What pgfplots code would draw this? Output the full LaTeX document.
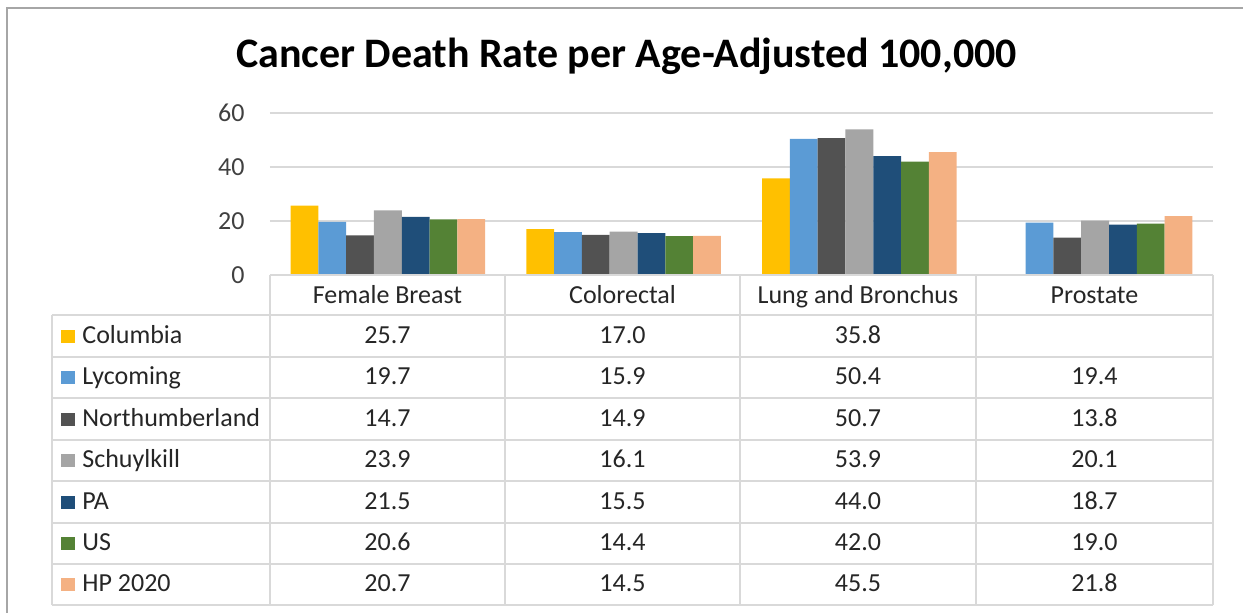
\documentclass[border=0pt]{standalone}
\usepackage{pgfplots}
\pgfplotsset{compat=1.18}
\usepackage{fontspec}
\setmainfont{Carlito}
\definecolor{cCol}{HTML}{FFC000}
\definecolor{cLyc}{HTML}{5B9BD5}
\definecolor{cNor}{HTML}{525252}
\definecolor{cSch}{HTML}{A5A5A5}
\definecolor{cPA}{HTML}{1F4E79}
\definecolor{cUS}{HTML}{548235}
\definecolor{cHP}{HTML}{F4B183}
\definecolor{gridc}{HTML}{D9D9D9}
\definecolor{borderc}{HTML}{A6A6A6}
\begin{document}
\begin{tikzpicture}
\path[use as bounding box] (-135pt,137.5pt) rectangle (486.5pt,-169pt);
\begin{axis}[
  at={(0pt,0pt)}, anchor=south west,
  scale only axis, width=471.5pt, height=81pt,
  xmin=-0.5, xmax=3.5, ymin=0, ymax=60,
  ybar=0pt, bar width=13.9pt,
  xtick=\empty, ytick={0,20,40,60},
  ymajorgrids, grid style={line width=0.75pt, color=gridc},
  axis line style={draw=none},
  major tick length=0pt,
  yticklabel style={font=\fontsize{13}{15}\selectfont, text=black!75, inner sep=0pt, anchor=east, xshift=-12.5pt},
  /pgf/number format/assume math mode=true,
  clip=false,
]
\addplot[fill=cCol, draw=none] coordinates {(0,25.7) (1,17.0) (2,35.8)};
\addplot[fill=cLyc, draw=none] coordinates {(0,19.7) (1,15.9) (2,50.4) (3,19.4)};
\addplot[fill=cNor, draw=none] coordinates {(0,14.7) (1,14.9) (2,50.7) (3,13.8)};
\addplot[fill=cSch, draw=none] coordinates {(0,23.9) (1,16.1) (2,53.9) (3,20.1)};
\addplot[fill=cPA, draw=none] coordinates {(0,21.5) (1,15.5) (2,44.0) (3,18.7)};
\addplot[fill=cUS, draw=none] coordinates {(0,20.6) (1,14.4) (2,42.0) (3,19.0)};
\addplot[fill=cHP, draw=none] coordinates {(0,20.7) (1,14.5) (2,45.5) (3,21.8)};
\end{axis}
\begin{scope}[shift={(-135pt,137.5pt)}, x=0.5pt, y=-0.5pt]
% outer frame
\draw[borderc, line width=1pt] (7,620) -- (7,8.5) -- (1250,8.5);
% title
\node[font=\bfseries\fontsize{21}{24}\selectfont, anchor=base] at (626.5,68) {Cancer Death Rate per Age-Adjusted 100,000};
% data table grid
\tikzset{tl/.style={gridc, line width=0.9pt}}
\draw[tl] (270,275) -- (1213,275);
\foreach \y in {315,357,398,440,481,523,564,605} \draw[tl] (52,\y) -- (1213,\y);
\foreach \x in {270,505,740,976,1213} \draw[tl] (\x,275) -- (\x,605);
\draw[tl] (52,315) -- (52,605);
% header
\foreach \x/\t in {387.5/Female Breast, 622.5/Colorectal, 858/Lung and Bronchus, 1094.5/Prostate}
  \node[font=\fontsize{13}{15}\selectfont, text=black!85, anchor=base, inner sep=0pt] at (\x,303.5) {\t};
% rows
\foreach \m/\c/\n/\a/\b/\cc/\d in {
  336/cCol/Columbia/25.7/17.0/35.8/{},
  377.5/cLyc/Lycoming/19.7/15.9/50.4/19.4,
  419/cNor/Northumberland/14.7/14.9/50.7/13.8,
  460.5/cSch/Schuylkill/23.9/16.1/53.9/20.1,
  502/cPA/PA/21.5/15.5/44.0/18.7,
  543.5/cUS/US/20.6/14.4/42.0/19.0,
  584.5/cHP/HP 2020/20.7/14.5/45.5/21.8}{
  \fill[\c] (61,\m-6) rectangle (75,\m+7);
  \node[font=\fontsize{13}{15}\selectfont, text=black!85, anchor=base west, inner sep=0pt] at (82,\m+7.5) {\n};
  \node[font=\fontsize{13}{15}\selectfont, text=black!85, anchor=base, inner sep=0pt] at (387.5,\m+7.5) {\a};
  \node[font=\fontsize{13}{15}\selectfont, text=black!85, anchor=base, inner sep=0pt] at (622.5,\m+7.5) {\b};
  \node[font=\fontsize{13}{15}\selectfont, text=black!85, anchor=base, inner sep=0pt] at (858,\m+7.5) {\cc};
  \node[font=\fontsize{13}{15}\selectfont, text=black!85, anchor=base, inner sep=0pt] at (1094.5,\m+7.5) {\d};
}
\end{scope}
\end{tikzpicture}
\end{document}
